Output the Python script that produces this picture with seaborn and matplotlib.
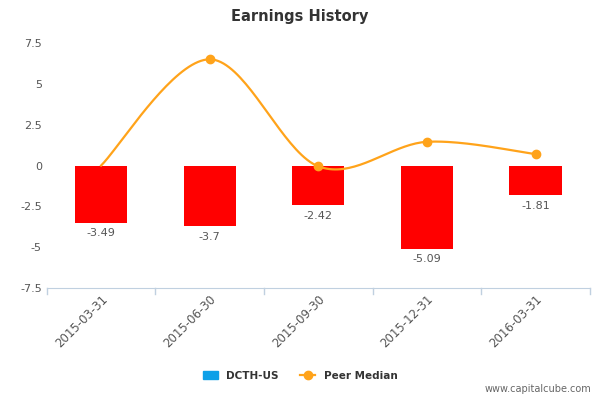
import numpy as np
import pandas as pd
import seaborn as sns
import matplotlib
matplotlib.use("Agg")
import matplotlib.pyplot as plt

dates = ["2015-03-31", "2015-06-30", "2015-09-30", "2015-12-31", "2016-03-31"]
dcth = [-3.49, -3.7, -2.42, -5.09, -1.81]
peer = [0.0, 6.5, -0.05, 1.45, 0.7]
yticks = [-7.5, -5, -2.5, 0, 2.5, 5, 7.5]
ylabels = ["-7.5", "-5", "-2.5", "0", "2.5", "5", "7.5"]

df = pd.DataFrame({"date": dates, "DCTH-US": dcth})
fig = plt.figure(figsize=(6, 4), dpi=100)
ax = fig.add_axes([0.078, 0.28, 0.905, 0.6125])
sns.barplot(data=df, x="date", y="DCTH-US", color="#ff0000", width=0.48, ax=ax, saturation=1)

# smooth line via Catmull-Rom through the peer points
x = np.arange(len(peer), dtype=float)
y = np.array(peer, dtype=float)
px = np.concatenate([[x[0]], x, [x[-1]]])
py = np.concatenate([[y[0]], y, [y[-1]]])
xs, ys = [], []
for i in range(1, len(px) - 2):
    t = np.linspace(0, 1, 40)
    for arr, out in ((px, xs), (py, ys)):
        p0, p1, p2, p3 = arr[i - 1], arr[i], arr[i + 1], arr[i + 2]
        out.extend(0.5 * ((2 * p1) + (-p0 + p2) * t + (2 * p0 - 5 * p1 + 4 * p2 - p3) * t**2 + (-p0 + 3 * p1 - 3 * p2 + p3) * t**3))
ax.plot(xs, ys, color="#ffa31a", lw=1.6, zorder=3, clip_on=False)
ax.plot(x[1:], y[1:], "o", color="#ffa31a", ms=6, zorder=4, clip_on=False)

for i, v in enumerate(dcth):
    ax.text(i, v - 0.35, f"{v:g}", ha="center", va="top", fontsize=8, color="#555555")

ax.set_ylim(-7.5, 7.5)
ax.set_xlim(-0.5, 4.5)
ax.set_yticks(yticks)
ax.set_yticklabels(ylabels)
ax.set_xticks(range(len(dates)))
ax.set_xticklabels(dates, rotation=45, ha="right", rotation_mode="anchor")
ax.tick_params(axis="y", length=0, labelsize=8, colors="#555555")
ax.tick_params(axis="x", length=0, labelsize=8.5, colors="#555555")
for b in np.arange(-0.5, 4.6, 1):
    ax.plot([b, b], [-7.5, -7.85], color="#c0d0e0", lw=1, clip_on=False)
for s in ["top", "right", "left"]:
    ax.spines[s].set_visible(False)
ax.spines["bottom"].set_color("#c0d0e0")
ax.set_xlabel("")
ax.set_ylabel("")
fig.text(0.5, 0.96, "Earnings History", ha="center", va="center", fontsize=10.5, color="#333333", fontweight="bold")

from matplotlib.patches import Patch
from matplotlib.lines import Line2D
handles = [Patch(color="#0da0e8", label="DCTH-US"),
           Line2D([], [], color="#ffa31a", marker="o", lw=1.6, label="Peer Median")]
fig.legend(handles=handles, loc="lower center", bbox_to_anchor=(0.5, 0.025), ncol=2, frameon=False,
           prop={"size": 7.5, "weight": "bold"}, labelcolor="#333333", handlelength=1.5, columnspacing=2)
fig.text(0.985, 0.015, "www.capitalcube.com", ha="right", va="bottom", fontsize=7, color="#666666")
fig.savefig("out.png", dpi=100)
